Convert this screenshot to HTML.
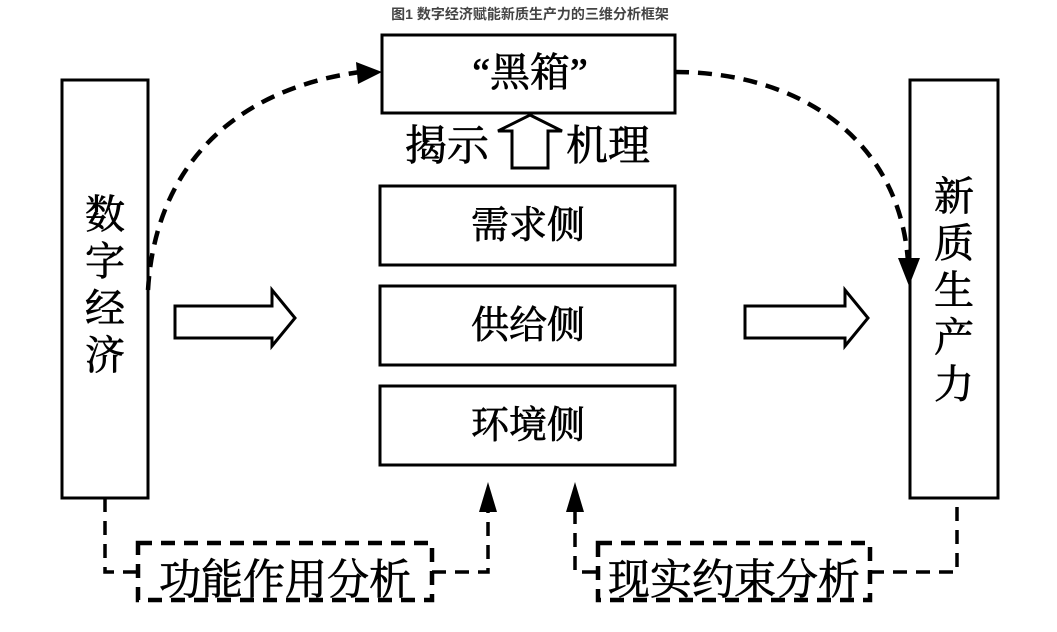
<!DOCTYPE html>
<html><head><meta charset="utf-8"><style>
html,body{margin:0;padding:0;background:#fff;}
svg{display:block;}
text{font-family:"Liberation Serif","Noto Serif CJK SC","Noto Sans CJK SC",serif;fill:#000;stroke:#000;stroke-width:0.7;}
</style></head><body>
<svg width="1057" height="632" viewBox="0 0 1057 632" xmlns="http://www.w3.org/2000/svg">
<text x="530" y="19" text-anchor="middle" font-size="14" font-weight="bold" style="font-family:'Liberation Sans','Noto Sans CJK SC',sans-serif;fill:#444;stroke:none">图1 数字经济赋能新质生产力的三维分析框架</text>

<rect x="382" y="35" width="293" height="78" fill="#fff" stroke="#000" stroke-width="3"/>
<text x="530" y="86" text-anchor="middle" font-size="40">“黑箱”</text>

<polygon points="530,115 562,131 548,131 548,168 512,168 512,131 498,131" fill="#fff" stroke="#000" stroke-width="3"/>
<text x="447" y="160" text-anchor="middle" font-size="42">揭示</text>
<text x="608" y="160" text-anchor="middle" font-size="42">机理</text>

<rect x="380" y="186" width="295" height="79" fill="#fff" stroke="#000" stroke-width="3"/>
<text x="528" y="238" text-anchor="middle" font-size="38">需求侧</text>
<rect x="380" y="286" width="295" height="79" fill="#fff" stroke="#000" stroke-width="3"/>
<text x="528" y="338" text-anchor="middle" font-size="38">供给侧</text>
<rect x="380" y="386" width="295" height="79" fill="#fff" stroke="#000" stroke-width="3"/>
<text x="528" y="438" text-anchor="middle" font-size="38">环境侧</text>

<rect x="62" y="80" width="86" height="418" fill="#fff" stroke="#000" stroke-width="3"/>
<g font-size="40" text-anchor="middle">
<text x="105" y="228">数</text><text x="105" y="275">字</text><text x="105" y="322">经</text><text x="105" y="369">济</text>
</g>
<rect x="910" y="80" width="88" height="418" fill="#fff" stroke="#000" stroke-width="3"/>
<g font-size="40" text-anchor="middle">
<text x="954" y="210">新</text><text x="954" y="257">质</text><text x="954" y="304">生</text><text x="954" y="351">产</text><text x="954" y="398">力</text>
</g>

<polygon points="175,306 272,306 272,290 295,318 272,346 272,338 175,338" fill="#fff" stroke="#000" stroke-width="3"/>
<polygon points="745,306 845,306 845,290 868,318 845,346 845,338 745,338" fill="#fff" stroke="#000" stroke-width="3"/>

<path d="M148,290 C155,170 230,90 360,72" fill="none" stroke="#000" stroke-width="4.5" stroke-dasharray="14,9"/>
<polygon points="382,72 356,62 358,84" fill="#000"/>
<path d="M675,72 C800,72 900,140 908,262" fill="none" stroke="#000" stroke-width="4.5" stroke-dasharray="14,9"/>
<polygon points="909,286 898,258 920,258" fill="#000"/>

<rect x="138" y="543" width="294" height="57" fill="#fff" stroke="#000" stroke-width="4.5" stroke-dasharray="14,9"/>
<text x="285" y="594" text-anchor="middle" font-size="42">功能作用分析</text>
<rect x="598" y="543" width="272" height="57" fill="#fff" stroke="#000" stroke-width="4.5" stroke-dasharray="14,9"/>
<text x="734" y="594" text-anchor="middle" font-size="42">现实约束分析</text>

<g fill="none" stroke="#000" stroke-width="3.5" stroke-dasharray="14,9">
<path d="M105,498 V572 H138"/>
<path d="M432,572 H488 V510"/>
<path d="M575,510 V572 H598"/>
<path d="M870,572 H957 V498"/>
</g>
<polygon points="488,482 479,512 497,512" fill="#000"/>
<polygon points="575,482 566,512 584,512" fill="#000"/>
</svg>
</body></html>
